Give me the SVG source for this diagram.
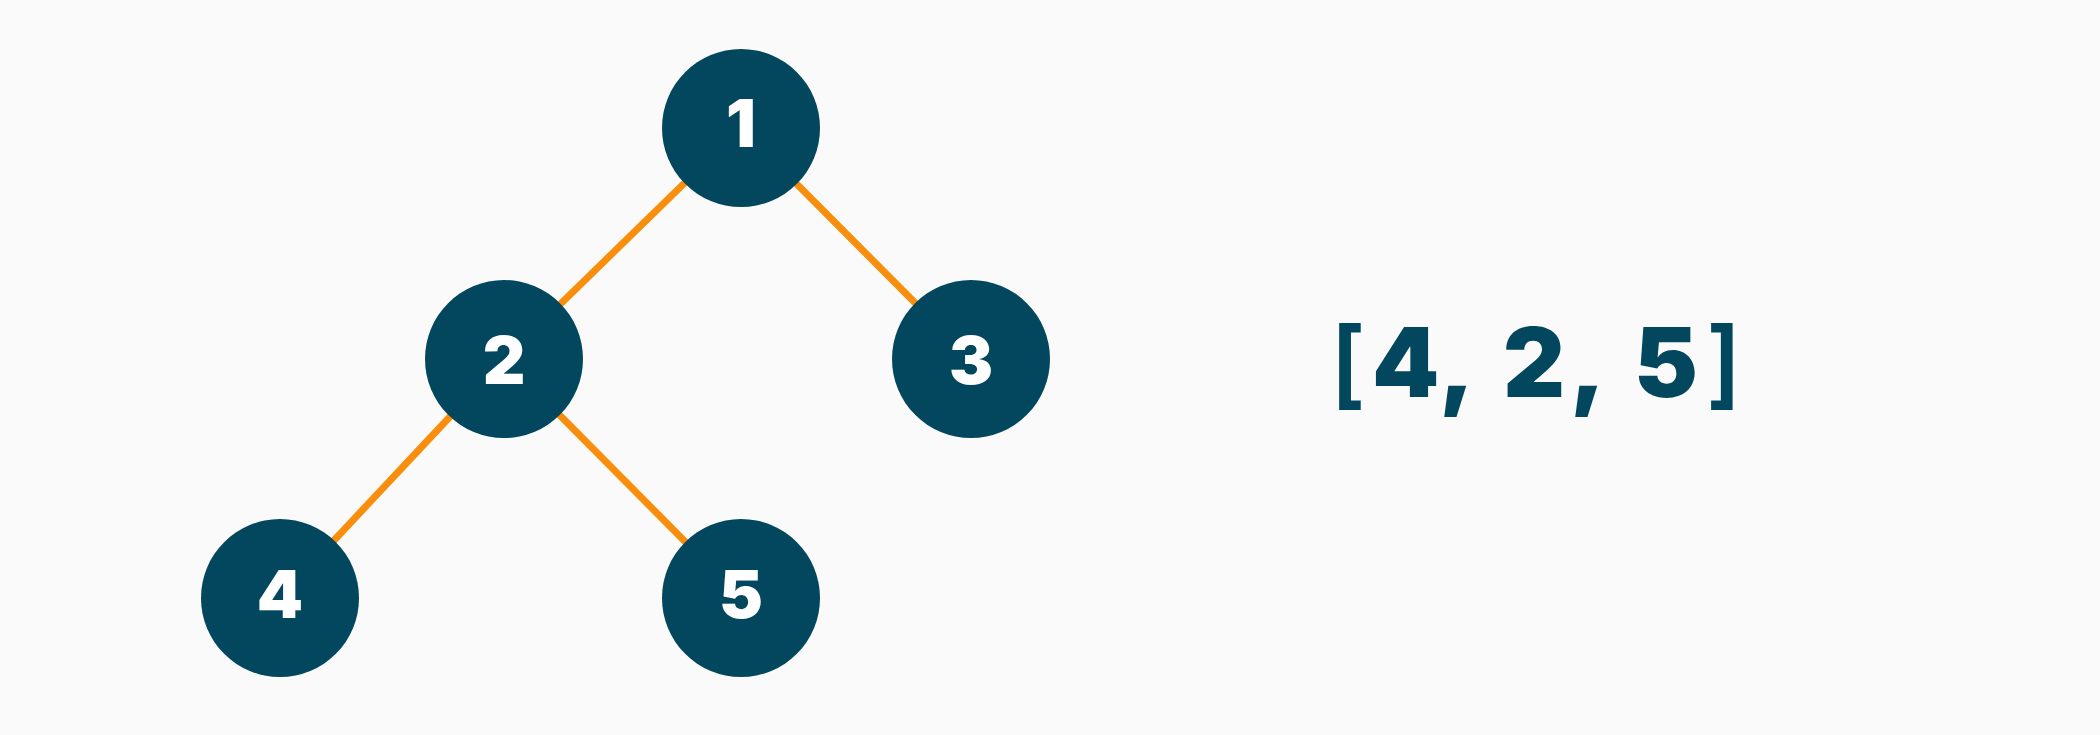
<svg xmlns="http://www.w3.org/2000/svg" width="2100" height="735" viewBox="0 0 2100 735">
<style>
.edge{stroke:#f98d0c;stroke-width:7;fill:none}
.node circle{fill:#02475e}
.node text{fill:#ffffff;font-family:Inter,"Liberation Sans",Arial,sans-serif;font-weight:900;font-size:66px;text-anchor:middle}
.list{fill:#02475e;font-family:Inter,"Liberation Sans",Arial,sans-serif;font-weight:900;font-size:96px}
.br{font-weight:600}
</style>
<rect width="2100" height="735" fill="#fafafa"/>
<g id="connectors">
<line class="edge" x1="741" y1="128" x2="504" y2="359"/>
<line class="edge" x1="741" y1="128" x2="971" y2="359"/>
<line class="edge" x1="504" y1="359" x2="280" y2="598"/>
<line class="edge" x1="504" y1="359" x2="741" y2="598"/>
</g>
<g id="node1" class="node"><circle cx="741" cy="128" r="79"/><text x="741" y="147">1</text></g>
<g id="node2" class="node"><circle cx="504" cy="359" r="79"/><text x="504" y="384">2</text></g>
<g id="node3" class="node"><circle cx="971" cy="359" r="79"/><text x="971" y="384">3</text></g>
<g id="node4" class="node"><circle cx="280" cy="598" r="79"/><text x="280" y="618">4</text></g>
<g id="node5" class="node"><circle cx="741" cy="598" r="79"/><text x="741" y="618">5</text></g>
<g id="result">
<text class="list" y="397"><tspan class="br" x="1330">[</tspan><tspan x="1372">4</tspan><tspan x="1439">,</tspan><tspan x="1503">2</tspan><tspan x="1570">,</tspan><tspan x="1634">5</tspan><tspan class="br" x="1706">]</tspan></text>
</g>
</svg>
